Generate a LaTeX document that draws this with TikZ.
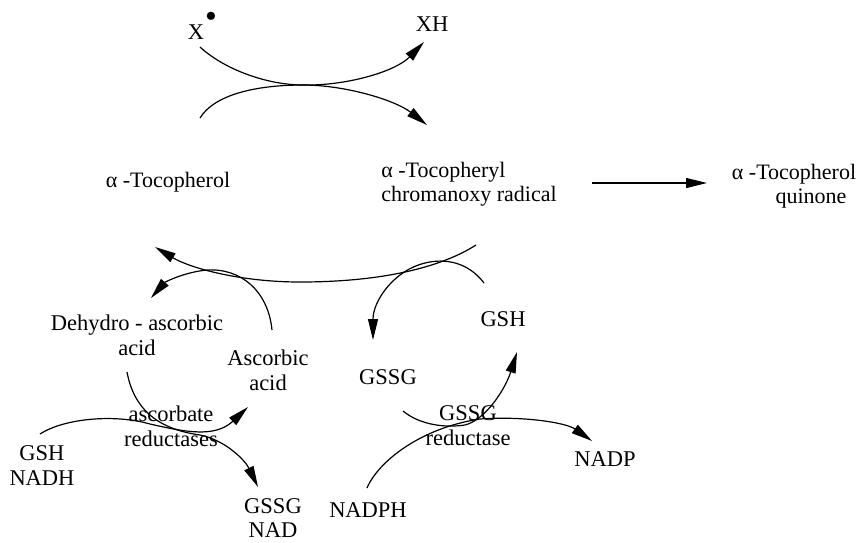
\documentclass[tikz,border=0pt]{standalone}
\usepackage{graphicx}
\usepackage{fontspec}
\setmainfont{Liberation Serif}
\usetikzlibrary{arrows.meta}
\begin{document}
\begin{tikzpicture}[x=1pt,y=-1pt,
  lbl/.style={inner sep=0pt, font=\fontsize{22.5}{25}\selectfont, align=center},
  mid/.style={font=\fontsize{22}{24}\selectfont},
  arc/.style={line width=1.2pt, -{Triangle[length=21pt,width=10pt]}}]
\useasboundingbox (0,0) rectangle (867,542);

% labels
\node[lbl] (x) at (196,26) {X\rlap{\hspace{1pt}\raisebox{0.55em}{\scalebox{1.5}{•}}}};
\node[lbl] (xh) at (432,24) {XH};
\node[lbl,mid] (toc) at (168,182) {α -Tocopherol};
\node[lbl,mid,align=left] (tocrad) at (469,184) {α -Tocopheryl\\chromanoxy radical};
\node[lbl,mid] (tocq) at (794,186) {α -Tocopherol\\\hspace*{34pt}quinone};
\node[lbl] (dha) at (137,335) {Dehydro - ascorbic\\acid};
\node[lbl] (asc) at (268,370) {Ascorbic\\acid};
\node[lbl] (gssgA) at (388,377) {GSSG};
\node[lbl] (gshA) at (503,319) {GSH};
\node[lbl] (asr) at (171,426) {ascorbate\\reductases};
\node[lbl] (gshnadh) at (42,466) {GSH\\NADH};
\node[lbl,font=\fontsize{22.5}{24}\selectfont] (gssgnad) at (273,518) {GSSG\\NAD};
\node[lbl] (nadph) at (368,510) {NADPH};
\node[lbl] (gsr) at (468,426) {GSSG\\reductase};
\node[lbl] (nadp) at (605,459) {NADP};

% arc end points
\coordinate (a1s) at (200,47);  \coordinate (a1e) at (424,42);
\coordinate (a2s) at (200,118); \coordinate (a2e) at (427,125);
\coordinate (touch) at (303,85);
\coordinate (qs) at (592,183);  \coordinate (qe) at (707,183);
\coordinate (bs) at (476,245);  \coordinate (be) at (155,247);
\coordinate (ascs) at (272,330); \coordinate (asce) at (151,298);
\coordinate (gshs) at (484,283); \coordinate (gshe) at (373,340);
\coordinate (as) at (127,372);  \coordinate (ae) at (258,487);
\coordinate (bbs) at (40,434);  \coordinate (bbe) at (248,407);
\coordinate (cs) at (403,411);  \coordinate (ce) at (517,352);
\coordinate (ds) at (367,488);  \coordinate (de) at (592,441);

% top exchange
\draw[arc] (a1s) .. controls (225,70) and (268,85) .. (touch)
                 .. controls (345,86) and (395,72) .. (a1e);
\draw[arc] (a2s) .. controls (214,95) and (255,85) .. (touch)
                 .. controls (345,85) and (395,100) .. (a2e);

% to quinone
\draw[arc] (qs) -- (qe);

% regeneration arc
\draw[arc] (bs) .. controls (440,268) and (380,282) .. (300,282)
                .. controls (240,282) and (190,268) .. (be);
\draw[arc] (ascs) .. controls (268,290) and (240,268) .. (207,270)
                  .. controls (185,272) and (165,282) .. (asce);
\draw[arc] (gshs) .. controls (468,262) and (445,258) .. (425,263)
                  .. controls (395,270) and (373,300) .. (gshe);

% ascorbate reductases
\draw[arc] (as) .. controls (135,415) and (165,430) .. (200,435)
                .. controls (225,440) and (245,460) .. (ae);
\draw[arc] (bbs) .. controls (65,418) and (115,414) .. (150,424)
                 .. controls (185,432) and (215,438) .. (bbe);

% GSSG reductase
\draw[arc] (cs) .. controls (420,425) and (445,428) .. (465,425)
                .. controls (485,420) and (505,390) .. (ce);
\draw[arc] (ds) .. controls (378,462) and (420,428) .. (480,419)
                .. controls (520,416) and (565,422) .. (de);
\end{tikzpicture}
\end{document}
